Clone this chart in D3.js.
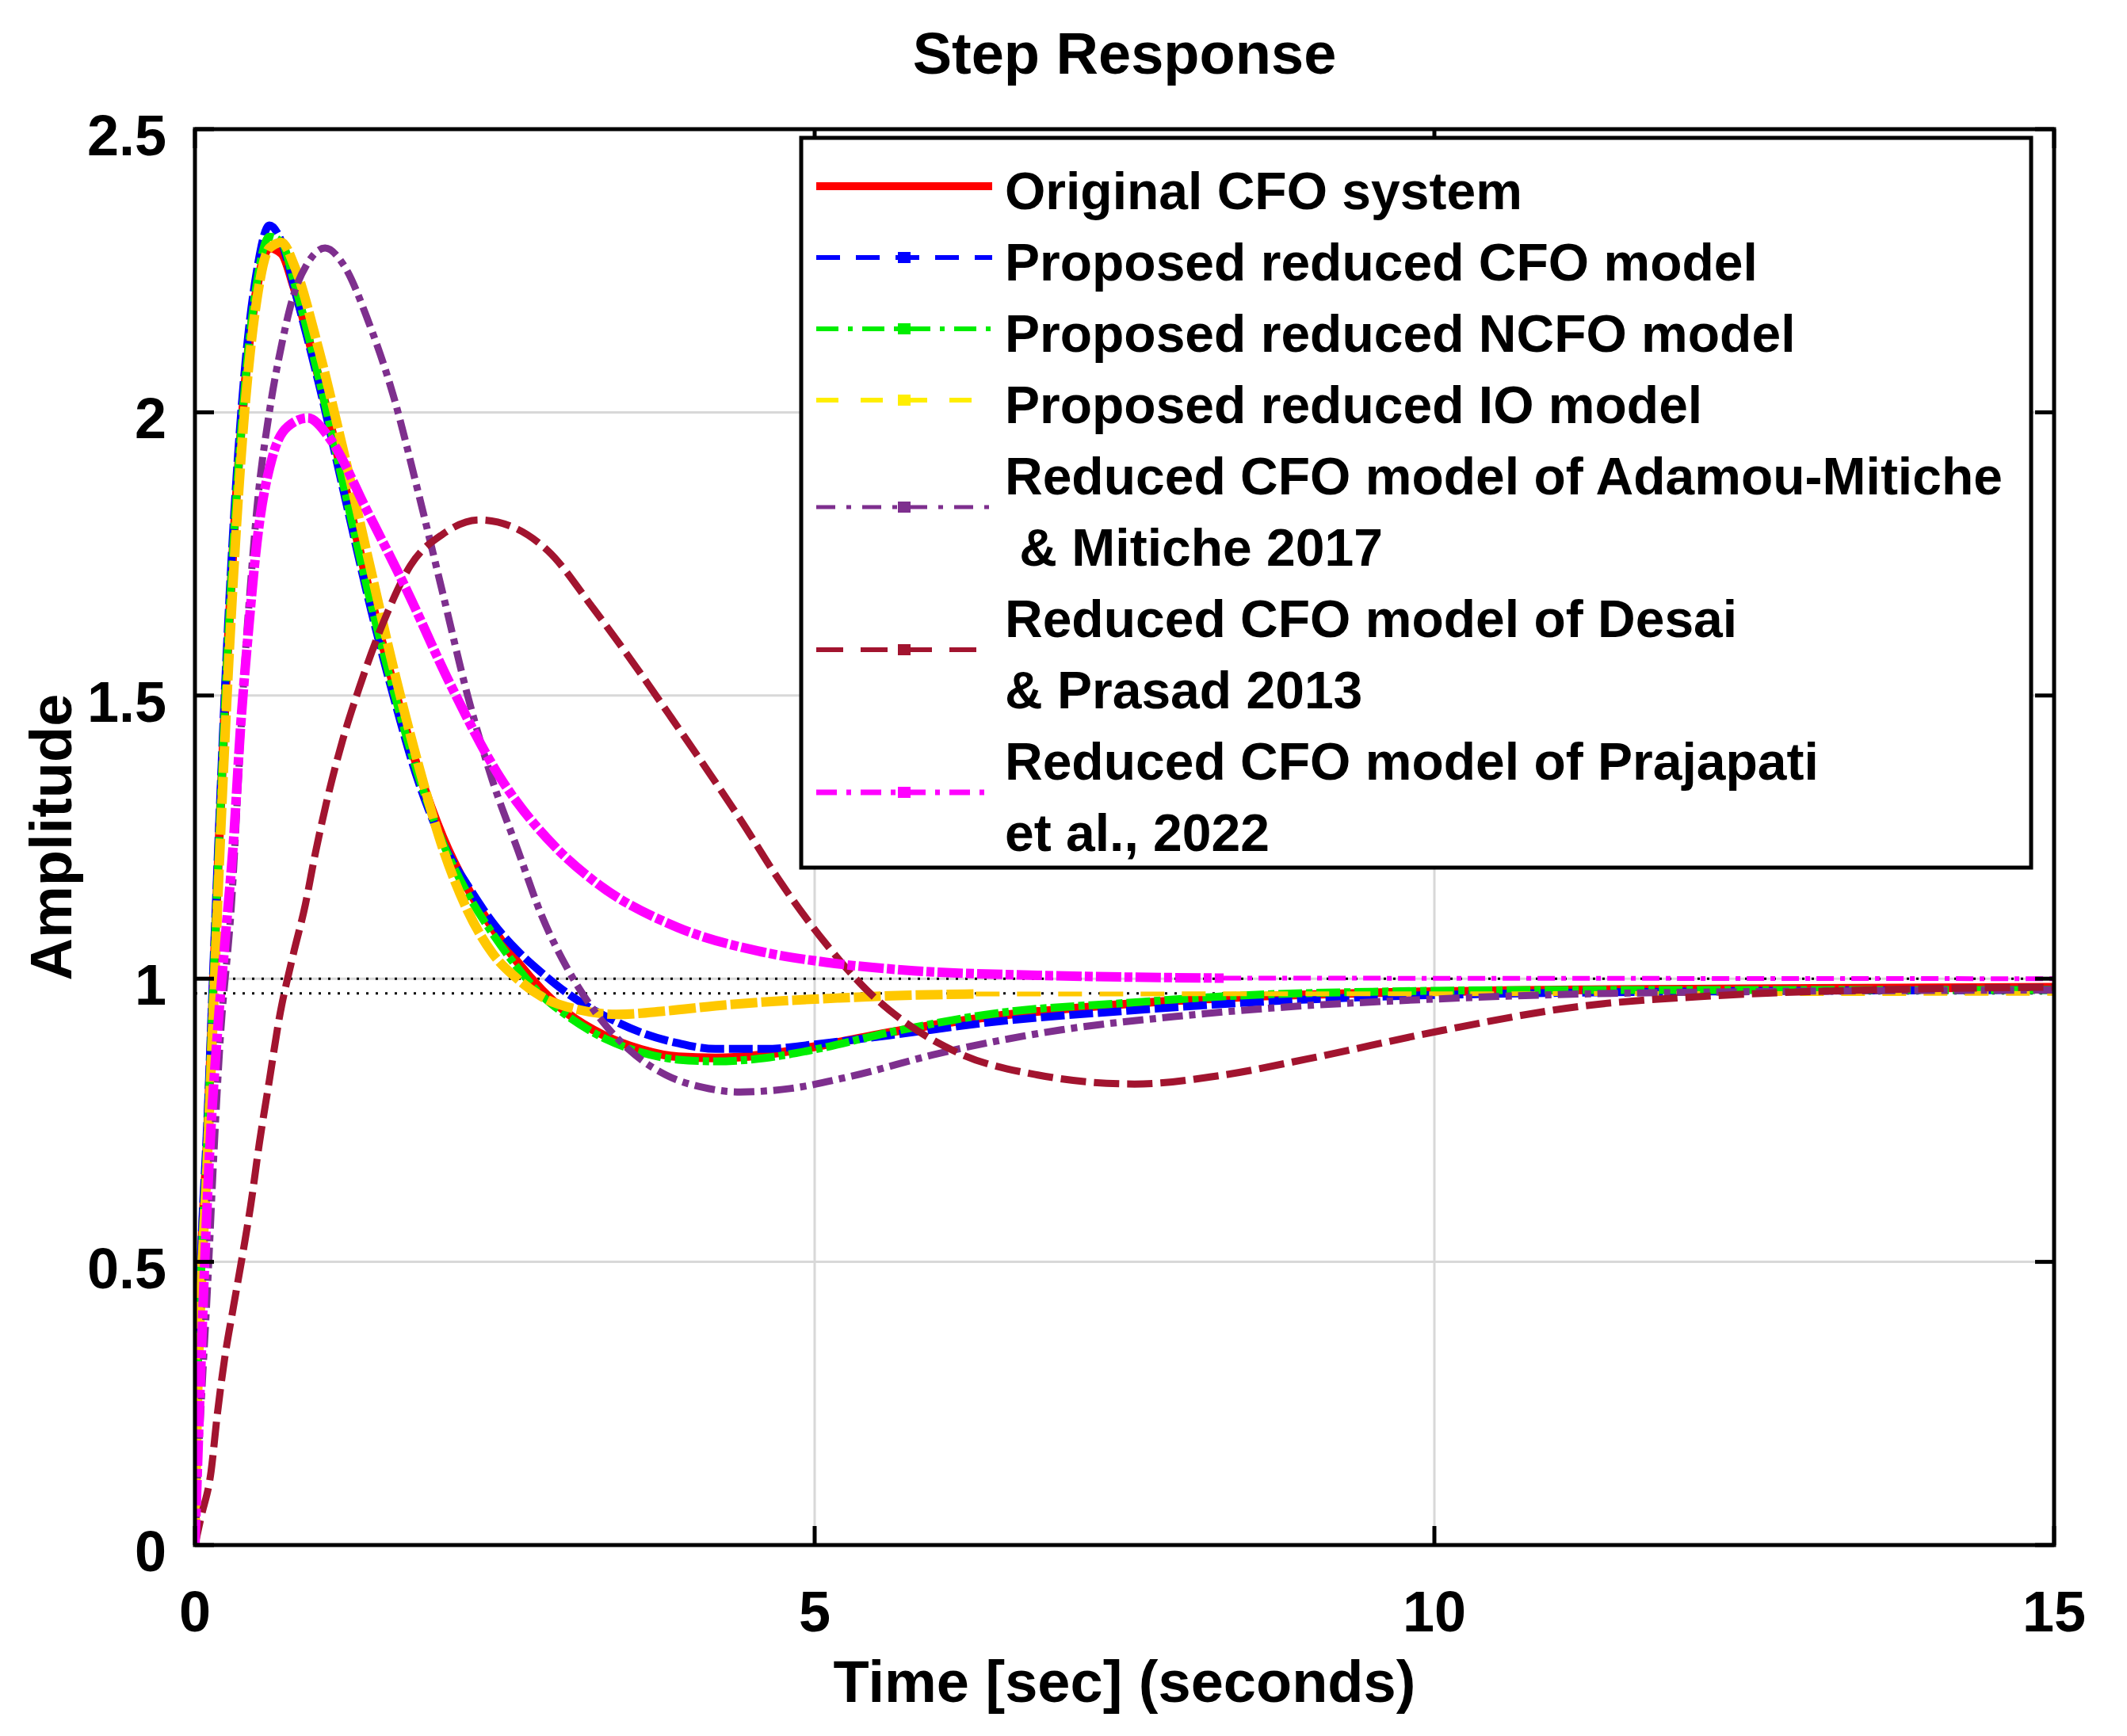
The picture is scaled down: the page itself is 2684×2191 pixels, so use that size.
<!DOCTYPE html>
<html><head><meta charset="utf-8">
<script src="https://cdn.jsdelivr.net/npm/d3@7/dist/d3.min.js"></script>
<style>html,body{margin:0;padding:0;background:#fff;} svg{display:block;}</style>
</head><body>
<svg id="chart" width="2684" height="2191"></svg>
<script>
// ---------------- DATA ----------------
const xTickValues = [0, 5, 10, 15];
const xTickLabels = ["0", "5", "10", "15"];
const yTickValues = [0, 0.5, 1, 1.5, 2, 2.5];
const yTickLabels = ["0", "0.5", "1", "1.5", "2", "2.5"];
const steadyStateLevels = [1.0, 0.974];

const tMain = [0,0.02,0.05,0.1,0.15,0.2,0.25,0.3,0.4,0.5,0.6,0.7,0.8,1.0,1.2,1.4,1.6,1.8,2.0,2.2,2.4,2.6,2.8,3.0,3.3,3.6,3.9,4.2,4.6,5.0,5.6,6.5,7.5,8.5,9.5,11,12.5,15];
const yOriginal = [0,0.3,0.5,0.72,1.0,1.27,1.52,1.73,2.04,2.22,2.29,2.28,2.22,2.06,1.88,1.69,1.52,1.37,1.25,1.16,1.09,1.03,0.98,0.94,0.9,0.875,0.862,0.86,0.866,0.88,0.905,0.935,0.955,0.968,0.975,0.98,0.982,0.985];
const yPropCFO = [0,0.32,0.52,0.75,1.03,1.3,1.55,1.76,2.07,2.25,2.33,2.3,2.22,2.05,1.86,1.67,1.5,1.35,1.24,1.165,1.1,1.05,1.01,0.975,0.935,0.905,0.886,0.876,0.876,0.884,0.9,0.925,0.943,0.958,0.968,0.975,0.978,0.98];
const yPropNCFO = [0,0.28,0.48,0.72,1.0,1.27,1.52,1.73,2.04,2.23,2.31,2.3,2.23,2.06,1.87,1.68,1.51,1.36,1.24,1.15,1.08,1.02,0.97,0.935,0.895,0.87,0.857,0.854,0.86,0.875,0.905,0.94,0.957,0.971,0.977,0.98,0.98,0.98];

const tIO = [0,0.02,0.05,0.1,0.15,0.2,0.25,0.3,0.4,0.5,0.6,0.7,0.8,1.0,1.2,1.4,1.6,1.8,2.0,2.2,2.4,2.6,2.8,3.1,3.4,3.8,4.2,4.6,5.2,5.8,6.3];
const yIO = [0,0.25,0.45,0.68,0.95,1.22,1.46,1.67,2.0,2.2,2.29,2.3,2.26,2.11,1.93,1.74,1.55,1.38,1.23,1.12,1.045,1.0,0.968,0.945,0.937,0.943,0.952,0.959,0.966,0.971,0.973];
const tIOTail = [6.3, 15];
const yIOTail = [0.973, 0.974];

const tAdamou = [0,0.02,0.05,0.1,0.15,0.2,0.3,0.35,0.4,0.45,0.5,0.6,0.7,0.8,0.9,1.05,1.2,1.4,1.6,1.8,2.0,2.2,2.4,2.6,2.8,3.0,3.2,3.5,3.8,4.1,4.4,4.8,5.3,6.0,7.0,7.9,8.8,9.7,11,12.5,15];
const yAdamou = [0,0.12,0.25,0.45,0.68,0.88,1.15,1.35,1.55,1.7,1.83,2.0,2.12,2.21,2.26,2.29,2.26,2.16,2.03,1.86,1.68,1.5,1.35,1.23,1.11,1.02,0.95,0.875,0.83,0.808,0.8,0.806,0.828,0.868,0.91,0.933,0.95,0.961,0.972,0.977,0.98];

const tDesai = [0,0.05,0.13,0.18,0.24,0.31,0.39,0.45,0.52,0.6,0.68,0.79,0.89,0.97,1.06,1.19,1.32,1.55,1.74,2.0,2.29,2.59,2.85,3.21,3.56,3.83,4.15,4.41,4.71,5.09,5.42,5.75,6.2,6.8,7.58,8.3,8.97,10.07,11.17,12.27,13.5,15];
const yDesai = [0,0.05,0.13,0.23,0.33,0.42,0.52,0.6,0.71,0.82,0.93,1.04,1.13,1.22,1.31,1.42,1.51,1.645,1.73,1.785,1.81,1.795,1.755,1.655,1.55,1.465,1.363,1.278,1.175,1.062,0.98,0.92,0.865,0.83,0.814,0.83,0.858,0.909,0.951,0.97,0.98,0.985];

const tPrajapati = [0,0.03,0.07,0.12,0.18,0.24,0.31,0.37,0.43,0.5,0.63,0.75,0.91,1.1,1.38,1.7,2.06,2.46,2.91,3.24,3.89,4.54,5.09,5.8,6.8,8.3];
const yPrajapati = [0,0.2,0.45,0.7,0.9,1.06,1.24,1.45,1.61,1.77,1.925,1.975,1.99,1.95,1.83,1.69,1.52,1.356,1.232,1.169,1.091,1.049,1.029,1.014,1.006,1.001];
const tPrajapatiTail = [8.3, 15];
const yPrajapatiTail = [1.001, 1.0];

const legendLabels = [
  ["Original CFO system"],
  ["Proposed reduced CFO model"],
  ["Proposed reduced NCFO model"],
  ["Proposed reduced IO model"],
  ["Reduced CFO model of Adamou-Mitiche", "\u00a0& Mitiche 2017"],
  ["Reduced CFO model of Desai", "& Prasad 2013"],
  ["Reduced CFO model of Prajapati", "et al., 2022"]
];

// ---------------- STYLES ----------------
const styles = [
  {color:"#ff0000", width:11, dash:null},
  {color:"#0000ff", width:10, dash:"30,6"},
  {color:"#00ee00", width:10, dash:"30,5,8,5"},
  {color:"#ffc800", width:12, dash:"34,5"},
  {color:"#7e2f8e", width:9, dash:"26,8,8,8"},
  {color:"#a2142f", width:9, dash:"32,10"},
  {color:"#ff00ff", width:12, dash:"32,4,10,4"}
];
const legendStyles = [
  {color:"#ff0000", width:10, dash:null},
  {color:"#0000ff", width:6, dash:"30,20"},
  {color:"#00ee00", width:6, dash:"28,12,6,12"},
  {color:"#ffee00", width:6, dash:"28,28"},
  {color:"#7e2f8e", width:5, dash:"24,14,6,14"},
  {color:"#a2142f", width:6, dash:"34,22"},
  {color:"#ff00ff", width:7, dash:"26,12,6,12"}
];

const series = [
  {t:tMain, y:yOriginal},
  {t:tMain, y:yPropCFO},
  {t:tMain, y:yPropNCFO},
  {t:tIO, y:yIO},
  {t:tAdamou, y:yAdamou},
  {t:tDesai, y:yDesai},
  {t:tPrajapati, y:yPrajapati}
];
const tails = [
  {idx:3, t:tIOTail, y:yIOTail, dash:"30,22", width:6},
  {idx:6, t:tPrajapatiTail, y:yPrajapatiTail, dash:"22,8,6,8", width:6}
];

// ---------------- LAYOUT ----------------
const svg = d3.select("#chart");
const W = 2684, H = 2191;
const L = 246, R = 2592, T = 163, B = 1950;
const font = "'Liberation Sans', Arial, Helvetica, sans-serif";

const x = d3.scaleLinear().domain([0, 15]).range([L, R]);
const y = d3.scaleLinear().domain([0, 2.5]).range([B, T]);

svg.append("rect").attr("width", W).attr("height", H).attr("fill", "#fff");

// grid
const grid = svg.append("g").attr("stroke", "#d8d8d8").attr("stroke-width", 3);
xTickValues.filter(v => v > 0 && v < 15).forEach(v => {
  grid.append("line").attr("x1", x(v)).attr("x2", x(v)).attr("y1", T).attr("y2", B);
});
yTickValues.filter(v => v > 0 && v < 2.5).forEach(v => {
  grid.append("line").attr("x1", L).attr("x2", R).attr("y1", y(v)).attr("y2", y(v));
});

// steady-state dotted lines
steadyStateLevels.forEach(v => {
  svg.append("line").attr("x1", x(0)).attr("x2", x(15)).attr("y1", y(v)).attr("y2", y(v))
    .attr("stroke", "#000").attr("stroke-width", 3).attr("stroke-dasharray", "3,9");
});

// curves
const line = d3.line().x(d => x(d[0])).y(d => y(d[1])).curve(d3.curveMonotoneX);
svg.append("clipPath").attr("id", "plotclip").append("rect")
  .attr("x", L).attr("y", T).attr("width", R - L).attr("height", B - T);
const plot = svg.append("g").attr("clip-path", "url(#plotclip)");
series.forEach((s, i) => {
  const pts = s.t.map((t, k) => [t, s.y[k]]);
  const st = styles[i];
  plot.append("path").attr("d", line(pts)).attr("fill", "none")
    .attr("stroke", st.color).attr("stroke-width", st.width)
    .attr("stroke-dasharray", st.dash).attr("stroke-linejoin", "round");
  tails.filter(tl => tl.idx === i).forEach(tl => {
    const tp = tl.t.map((t, k) => [t, tl.y[k]]);
    plot.append("path").attr("d", line(tp)).attr("fill", "none")
      .attr("stroke", st.color).attr("stroke-width", tl.width)
      .attr("stroke-dasharray", tl.dash);
  });
});

// axes box + ticks
const ax = svg.append("g").attr("stroke", "#000").attr("stroke-width", 5);
ax.append("rect").attr("x", L).attr("y", T).attr("width", R - L).attr("height", B - T).attr("fill", "none");
const tl = 24;
xTickValues.forEach(v => {
  ax.append("line").attr("x1", x(v)).attr("x2", x(v)).attr("y1", B).attr("y2", B - tl);
  ax.append("line").attr("x1", x(v)).attr("x2", x(v)).attr("y1", T).attr("y2", T + tl);
});
yTickValues.forEach(v => {
  ax.append("line").attr("x1", L).attr("x2", L + tl).attr("y1", y(v)).attr("y2", y(v));
  ax.append("line").attr("x1", R).attr("x2", R - tl).attr("y1", y(v)).attr("y2", y(v));
});

// tick labels
const tickFont = 72;
xTickValues.forEach((v, i) => {
  svg.append("text").attr("x", x(v)).attr("y", B + 109).attr("text-anchor", "middle")
    .attr("font-family", font).attr("font-weight", "bold").attr("font-size", tickFont)
    .text(xTickLabels[i]);
});
yTickValues.forEach((v, i) => {
  svg.append("text").attr("x", L - 36).attr("y", y(v) + 33).attr("text-anchor", "end")
    .attr("font-family", font).attr("font-weight", "bold").attr("font-size", tickFont)
    .text(yTickLabels[i]);
});

// title and axis labels
svg.append("text").attr("x", (L + R) / 2).attr("y", 93).attr("text-anchor", "middle")
  .attr("font-family", font).attr("font-weight", "bold").attr("font-size", 74).text("Step Response");
svg.append("text").attr("x", (L + R) / 2).attr("y", 2148).attr("text-anchor", "middle")
  .attr("font-family", font).attr("font-weight", "bold").attr("font-size", 74).text("Time [sec] (seconds)");
svg.append("text").attr("transform", `translate(90, ${(T + B) / 2}) rotate(-90)`).attr("text-anchor", "middle")
  .attr("font-family", font).attr("font-weight", "bold").attr("font-size", 74).text("Amplitude");

// legend
const lg = svg.append("g");
const LX = 1011, LY = 174, LW = 1552, LH = 921;
lg.append("rect").attr("x", LX).attr("y", LY).attr("width", LW).attr("height", LH)
  .attr("fill", "#fff").attr("stroke", "#000").attr("stroke-width", 5);
const legFont = 66, pitch = 90, firstCenter = 241;
let lineIdx = 0;
legendLabels.forEach((lines, i) => {
  const centers = lines.map((_, k) => firstCenter + pitch * (lineIdx + k));
  const sy = d3.mean(centers) - 6;
  const ls = legendStyles[i];
  lg.append("line").attr("x1", 1030).attr("x2", 1252).attr("y1", sy).attr("y2", sy)
    .attr("stroke", ls.color).attr("stroke-width", ls.width).attr("stroke-dasharray", ls.dash);
  if (i > 0) {
    lg.append("rect").attr("x", 1141 - 8).attr("y", sy - 7).attr("width", 16).attr("height", 14).attr("fill", ls.color);
  }
  lines.forEach((txt, k) => {
    lg.append("text").attr("x", 1268).attr("y", centers[k] + 23)
      .attr("font-family", font).attr("font-weight", "bold").attr("font-size", legFont)
      .attr("fill", "#000").text(txt);
  });
  lineIdx += lines.length;
});
</script>
</body></html>
